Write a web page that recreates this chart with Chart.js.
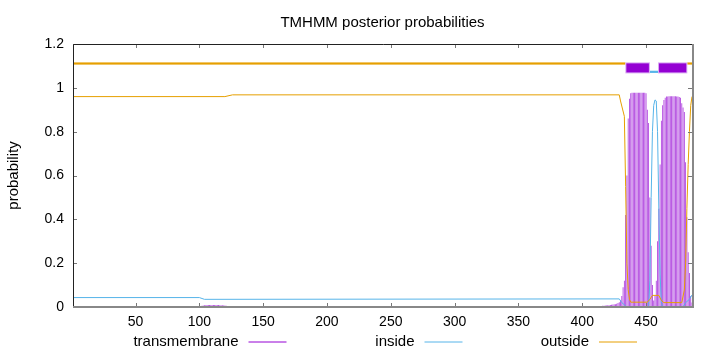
<!DOCTYPE html>
<html lang="en">
<head>
<meta charset="UTF-8">
<title>TMHMM posterior probabilities</title>
<script src="https://cdn.jsdelivr.net/npm/chart.js@4.4.0/dist/chart.umd.min.js"></script>
<style>
    html, body { margin: 0; padding: 0; background: #fff; }
    #wrap { width: 720px; height: 352px; }
</style>
</head>
<body>
<div id="wrap"><canvas id="tmChart" width="720" height="352"></canvas></div>
<script>
// residue range of the sequence
const seqStart = 1;
const seqEnd = 486;
const xTicks = [50, 100, 150, 200, 250, 300, 350, 400, 450];
const yTicks = [0, 0.2, 0.4, 0.6, 0.8, 1, 1.2];

// transmembrane posterior per residue (drawn as impulses)
const tmLowStart = 101;
const tmLow = [0.004, 0.006, 0.007, 0.008, 0.008, 0.009, 0.009, 0.009, 0.009, 0.009,
    0.009, 0.009, 0.009, 0.009, 0.009, 0.008, 0.008, 0.008, 0.007, 0.007,
    0.006, 0.005, 0.004, 0.003, 0.002];
const tmHighStart = 410;
const tmHigh = [0.003, 0.003, 0.004, 0.004, 0.005, 0.005, 0.006, 0.006, 0.007, 0.007,
    0.008, 0.008, 0.009, 0.010, 0.011, 0.012, 0.013, 0.015, 0.018,
    0.022, 0.03, 0.05, 0.09, 0.12, 0.42, 0.6, 0.86, 0.95, 0.975,
    0.977, 0.978, 0.978, 0.978, 0.978, 0.978, 0.978, 0.978, 0.978, 0.977, 0.977, 0.975,
    0.9, 0.84, 0.5, 0.28, 0.1, 0.03, 0.05, 0.12, 0.3, 0.45, 0.65, 0.85, 0.92, 0.945, 0.955,
    0.96, 0.96, 0.962, 0.962, 0.962, 0.962, 0.962, 0.962, 0.96, 0.96, 0.958,
    0.955, 0.93, 0.91, 0.89, 0.66, 0.41, 0.25, 0.155, 0.05, 0.02];

// inside / outside probabilities at the residues where the curves bend
const insidePos = [1, 100, 104, 429, 431, 434, 435, 452, 453, 454, 455, 456, 457, 458, 459, 460, 461, 462, 463, 479, 481, 484, 486];
const insideVal = [0.043, 0.043, 0.035, 0.037, 0.02, 0.005, 0, 0, 0.12, 0.5, 0.8, 0.92, 0.945, 0.94, 0.8, 0.45, 0.15, 0.02, 0, 0, 0.02, 0.035, 0.055];
const outsidePos = [1, 120, 126, 429, 430, 433, 434, 435, 436, 437, 438, 451, 453, 455, 460, 462, 464, 478, 480, 481, 482, 483, 484, 485, 486];
const outsideVal = [0.96, 0.96, 0.968, 0.968, 0.94, 0.87, 0.55, 0.2, 0.08, 0.035, 0.022, 0.022, 0.035, 0.053, 0.053, 0.03, 0.02, 0.02, 0.078, 0.2, 0.45, 0.65, 0.8, 0.92, 0.96];

// predicted topology (residue ranges) shown above the curves
const topoOutside = [[1, 433.8], [482.3, 486]];
const topoTM = [[433.8, 453], [459.4, 482.3]];
const topoInside = [[453, 459.4]];
// band limits in probability units: [bottom, top]
const bandOutside = [1.106, 1.116];
const bandTM = [1.066, 1.116];
const bandInside = [1.068, 1.078];

const PURPLE = '#9400d3';
const BLUE = '#56b4e9';
const ORANGE = '#e69f00';
const FONT = '"Liberation Sans", Arial, sans-serif';

function impulses(start, vals) {
    return vals.map((v, i) => ({ x: start + i, y: v }));
}
function curve(pos, vals) {
    return pos.map((p, i) => ({ x: p, y: vals[i] }));
}

const datasets = [
    {
        type: 'bar',
        label: 'transmembrane',
        data: impulses(tmLowStart, tmLow).concat(impulses(tmHighStart, tmHigh)),
        backgroundColor: 'rgba(148, 0, 211, 0.78)',
        borderWidth: 0,
        barThickness: 0.82,
        inflateAmount: 0,
        order: 5
    },
    {
        type: 'line',
        label: 'inside',
        data: curve(insidePos, insideVal),
        borderColor: BLUE,
        borderWidth: 1,
        pointRadius: 0,
        order: 3
    },
    {
        type: 'line',
        label: 'outside',
        data: curve(outsidePos, outsideVal),
        borderColor: ORANGE,
        borderWidth: 1,
        pointRadius: 0,
        order: 2
    }
];

// topology strip, placed through the chart scales
const topology = {
    id: 'topology',
    afterDatasetsDraw(chart) {
        const { ctx, scales: { x, y } } = chart;
        const band = (ranges, lim, color, inset) => {
            ctx.fillStyle = color;
            ranges.forEach(r => {
                const x0 = x.getPixelForValue(r[0]) + inset;
                const x1 = x.getPixelForValue(r[1]) - inset;
                const y0 = y.getPixelForValue(lim[1]) + inset;
                const y1 = y.getPixelForValue(lim[0]) - inset;
                ctx.fillRect(x0, y0, x1 - x0, y1 - y0);
            });
        };
        ctx.save();
        band(topoOutside, bandOutside, ORANGE, 0);
        band(topoInside, bandInside, BLUE, 0);
        band(topoTM, bandTM, '#d6a3f2', 0);
        band(topoTM, bandTM, PURPLE, 1);
        ctx.restore();
    }
};

// frame, inward ticks, title and gnuplot-style key
const decorations = {
    id: 'decorations',
    afterDraw(chart) {
        const { ctx, chartArea: a, scales: { x, y } } = chart;
        ctx.save();

        ctx.strokeStyle = '#777';
        ctx.lineWidth = 1;
        ctx.beginPath();
        xTicks.forEach(v => {
            const px = Math.round(x.getPixelForValue(v)) + 0.5;
            ctx.moveTo(px, a.bottom); ctx.lineTo(px, a.bottom - 4);
            ctx.moveTo(px, a.top); ctx.lineTo(px, a.top + 4);
        });
        yTicks.forEach(v => {
            const py = Math.round(y.getPixelForValue(v)) + 0.5;
            ctx.moveTo(a.left, py); ctx.lineTo(a.left + 4, py);
            ctx.moveTo(a.right, py); ctx.lineTo(a.right - 4, py);
        });
        ctx.stroke();

        ctx.strokeStyle = '#222';
        ctx.beginPath();
        ctx.moveTo(a.left + 0.5, a.bottom);
        ctx.lineTo(a.left + 0.5, a.top + 0.5);
        ctx.lineTo(a.right + 1, a.top + 0.5);
        ctx.stroke();

        ctx.strokeStyle = '#888';
        ctx.lineWidth = 2;
        ctx.beginPath();
        ctx.moveTo(a.left, a.bottom);
        ctx.lineTo(a.right + 1, a.bottom);
        ctx.lineTo(a.right + 1, a.top);
        ctx.stroke();

        ctx.fillStyle = '#000';
        ctx.font = '15px ' + FONT;
        ctx.textAlign = 'center';
        ctx.textBaseline = 'alphabetic';
        ctx.fillText('TMHMM posterior probabilities', (a.left + a.right) / 2, 27);

        const key = [
            { text: 'transmembrane', color: PURPLE, x: 248.5 },
            { text: 'inside', color: BLUE, x: 424.5 },
            { text: 'outside', color: ORANGE, x: 599 }
        ];
        ctx.textAlign = 'right';
        ctx.lineWidth = 1;
        key.forEach(k => {
            ctx.fillText(k.text, k.x - 10, 346);
            ctx.strokeStyle = k.color;
            ctx.beginPath();
            ctx.moveTo(k.x, 342);
            ctx.lineTo(k.x + 38, 342);
            ctx.stroke();
        });
        ctx.restore();
    }
};

new Chart(document.getElementById('tmChart'), {
    type: 'line',
    data: { datasets: datasets },
    options: {
        responsive: false,
        animation: false,
        events: [],
        layout: { padding: { top: 44, right: 28, left: 0, bottom: 0 } },
        plugins: {
            legend: { display: false },
            tooltip: { enabled: false },
            title: { display: false }
        },
        scales: {
            x: {
                type: 'linear',
                min: seqStart,
                max: seqEnd,
                offset: false,
                grid: { display: false, drawTicks: false },
                border: { display: false },
                afterBuildTicks: s => { s.ticks = xTicks.map(v => ({ value: v })); },
                afterFit: s => { s.height = 45; },
                ticks: { padding: 7, color: '#000', font: { family: FONT, size: 14 }, maxRotation: 0, autoSkip: false }
            },
            y: {
                min: 0,
                max: 1.2,
                grid: { display: false, drawTicks: false },
                border: { display: false },
                afterBuildTicks: s => { s.ticks = yTicks.map(v => ({ value: v })); },
                afterFit: s => { s.width = 73; },
                ticks: { padding: 9, color: '#000', font: { family: FONT, size: 14 }, callback: v => String(v) },
                title: { display: true, text: 'probability', color: '#000', font: { family: FONT, size: 15 }, padding: { top: 5 } }
            }
        }
    },
    plugins: [topology, decorations]
});
</script>
</body>
</html>
